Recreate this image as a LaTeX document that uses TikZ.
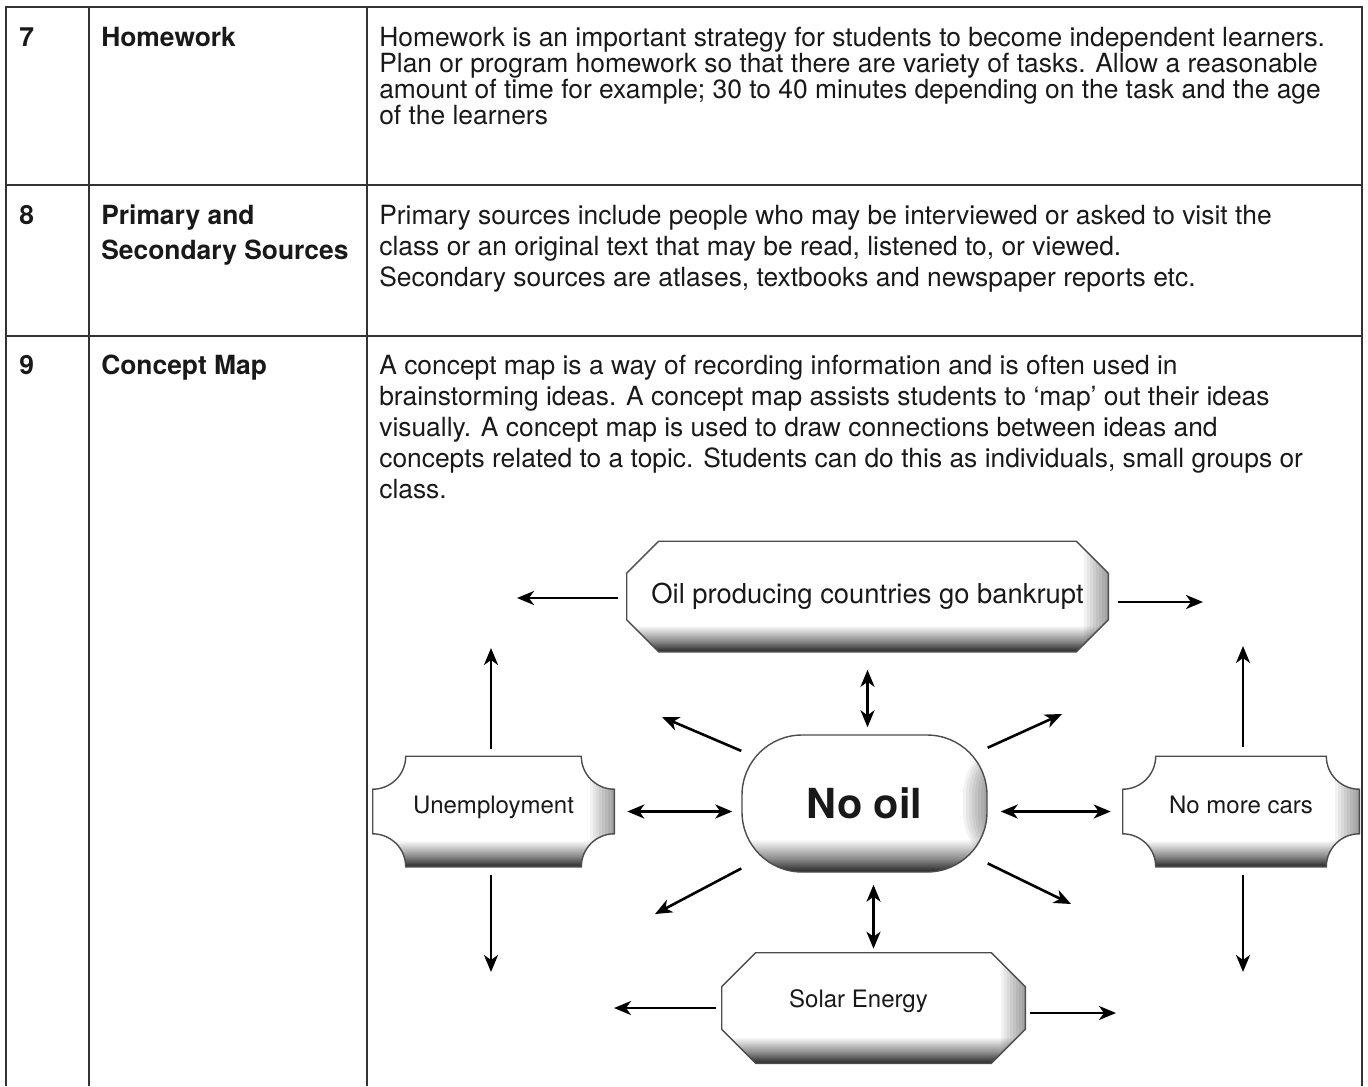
\documentclass[tikz,border=0pt]{standalone}
\usepackage{fontspec}
\setmainfont{TeX Gyre Heros}
\usetikzlibrary{shapes,arrows.meta,backgrounds}

\pgfdeclareverticalshading{bevelshade}{100bp}{color(0bp)=(black!85); color(25bp)=(black!85); color(30bp)=(black!45); color(37bp)=(white); color(100bp)=(white)}

\begin{document}
\begin{tikzpicture}[x=0.5pt,y=-0.5pt,>={Stealth[length=8.5pt,width=7pt,inset=2.5pt]}]
	\tikzstyle{every node}=[inner sep=0pt, text=black!90];
	\tikzstyle{gridline}=[draw=black!80, line width=1pt];
	\tikzstyle{cell}=[anchor=north west, align=left, font=\fontsize{13.2pt}{13pt}\selectfont];
	\tikzstyle{head}=[anchor=north west, align=left, font=\bfseries\fontsize{13.2pt}{17.5pt}\selectfont];
	\tikzstyle{box}=[minimum height=54pt, font=\fontsize{12pt}{14pt}\selectfont];
	\tikzstyle{bevel}=[shade, shading=bevelshade, draw=black!70, line width=0.7pt, path picture={\foreach \k in {1,...,8} \fill[black, opacity=0.05] ([xshift=-1.5*\k pt]path picture bounding box.north east) rectangle (path picture bounding box.south east);}];
	\tikzstyle{every path}=[line width=1.3pt];
	\useasboundingbox (0,0) rectangle (1368,1086);
	% table
	\draw[gridline] (6,1086) -- (6,7) -- (1362,7) -- (1362,1086);
	\draw[gridline] (89,7) -- (89,1086);
	\draw[gridline] (367,7) -- (367,1086);
	\draw[gridline] (6,185) -- (1362,185);
	\draw[gridline] (6,336) -- (1362,336);
	\node[head] (n7) at (18,26) {7};
	\node[head] (h7) at (100,26) {Homework};
	\node[cell] (c7) at (378,26) {Homework is an important strategy for students to become independent learners.\\
		Plan or program homework so that there are variety of tasks. Allow a reasonable\\
		amount of time for example; 30 to 40 minutes depending on the task and the age\\
		of the learners};
	\node[head] (n8) at (18,204) {8};
	\node[head] (h8) at (100,204) {Primary and\\Secondary Sources};
	\node[cell, font=\fontsize{13.2pt}{15.5pt}\selectfont] (c8) at (378,204) {Primary sources include people who may be interviewed or asked to visit the\\
		class or an original text that may be read, listened to, or viewed.\\
		Secondary sources are atlases, textbooks and newspaper reports etc.};
	\node[head] (n9) at (18,354) {9};
	\node[head] (h9) at (100,354) {Concept Map};
	\node[cell, font=\fontsize{13.2pt}{15.5pt}\selectfont] (c9) at (378,354) {A concept map is a way of recording information and is often used in\\
		brainstorming ideas. A concept map assists students to ‘map’ out their ideas\\
		visually. A concept map is used to draw connections between ideas and\\
		concepts related to a topic. Students can do this as individuals, small groups or\\
		class.};
	% concept map
	\node[box, minimum width=239.5pt, font=\fontsize{13.7pt}{16pt}\selectfont] (oil) at (867.5,596.5) {Oil producing countries go bankrupt};
	\node[box, bevel, minimum width=122.5pt, minimum height=68.5pt, rounded corners=30pt, font=\bfseries\fontsize{20.7pt}{24pt}\selectfont] (nooil) at (864.5,803.5) {No oil};
	\node[box, minimum width=119.5pt, text depth=7pt] (unemp) at (493.5,811.5) {Unemployment};
	\node[box, minimum width=117pt, text depth=7pt] (cars) at (1241,811.5) {No more cars};
	\node[box, minimum width=150.5pt, text depth=9.6pt] (solar) at (873.5,1008) {\hspace*{-15pt}Solar Energy};
	\begin{pgfonlayer}{background}
		\path[bevel] ([xshift=16pt]oil.north west) -- ([xshift=-16pt]oil.north east) -- ([yshift=-16pt]oil.north east) -- ([yshift=16pt]oil.south east) -- ([xshift=-16pt]oil.south east) -- ([xshift=16pt]oil.south west) -- ([yshift=16pt]oil.south west) -- ([yshift=-16pt]oil.north west) -- cycle;
		\path[bevel] ([xshift=17pt]solar.north west) -- ([xshift=-17pt]solar.north east) -- ([yshift=-17pt]solar.north east) -- ([yshift=17pt]solar.south east) -- ([xshift=-17pt]solar.south east) -- ([xshift=17pt]solar.south west) -- ([yshift=17pt]solar.south west) -- ([yshift=-17pt]solar.north west) -- cycle;
		\path[bevel] ([xshift=16.5pt]unemp.north west) -- ([xshift=-16.5pt]unemp.north east) arc[start angle=180, end angle=270, radius=16.5pt] -- ([yshift=16.5pt]unemp.south east) arc[start angle=90, end angle=180, radius=16.5pt] -- ([xshift=16.5pt]unemp.south west) arc[start angle=0, end angle=90, radius=16.5pt] -- ([yshift=-16.5pt]unemp.north west) arc[start angle=270, end angle=360, radius=16.5pt] -- cycle;
		\path[bevel] ([xshift=16.5pt]cars.north west) -- ([xshift=-16.5pt]cars.north east) arc[start angle=180, end angle=270, radius=16.5pt] -- ([yshift=16.5pt]cars.south east) arc[start angle=90, end angle=180, radius=16.5pt] -- ([xshift=16.5pt]cars.south west) arc[start angle=0, end angle=90, radius=16.5pt] -- ([yshift=-16.5pt]cars.north west) arc[start angle=270, end angle=360, radius=16.5pt] -- cycle;
	\end{pgfonlayer}
	% free arrow ends
	\coordinate (oilL) at (517,598);
	\coordinate (oilR) at (1203,602);
	\coordinate (unUp) at (491,648);
	\coordinate (unDn) at (491,972);
	\coordinate (carUp) at (1243,646);
	\coordinate (carDn) at (1243,972);
	\coordinate (solL) at (614,1008);
	\coordinate (solR) at (1116,1013);
	\coordinate (dNW) at (662,717);
	\coordinate (dNE) at (1062,714);
	\coordinate (dSW) at (655,914);
	\coordinate (dSE) at (1071,904);
	\draw[->, shorten <=4.5pt] (oil.west |- oilL) -- (oilL);
	\draw[->, shorten <=5pt] (oil.east |- oilR) -- (oilR);
	\draw[<->, shorten <=9pt, shorten >=3.5pt] (oil.south) -- (oil.south |- nooil.north);
	\draw[<->, shorten <=6.5pt, shorten >=4.5pt] (unemp.east) -- (unemp.east -| nooil.west);
	\draw[<->, shorten <=6.5pt, shorten >=6pt] (cars.west -| nooil.east) -- (cars.west);
	\draw[<->, shorten <=6pt, shorten >=2pt] (solar.north |- nooil.south) -- (solar.north);
	\draw[->, shorten <=3.5pt] (unemp.north -| unUp) -- (unUp);
	\draw[->, shorten <=4pt] (unemp.south -| unDn) -- (unDn);
	\draw[->, shorten <=4.5pt] (cars.north -| carUp) -- (carUp);
	\draw[->, shorten <=4pt] (cars.south -| carDn) -- (carDn);
	\draw[->, shorten <=3pt] (solar.west |- solL) -- (solL);
	\draw[->, shorten <=2.5pt] (solar.east |- solR) -- (solR);
	\draw[->] (nooil) -- (dNW);
	\draw[->] (nooil) -- (dNE);
	\draw[->] (nooil) -- (dSW);
	\draw[->] (nooil) -- (dSE);
\end{tikzpicture}
\end{document}
